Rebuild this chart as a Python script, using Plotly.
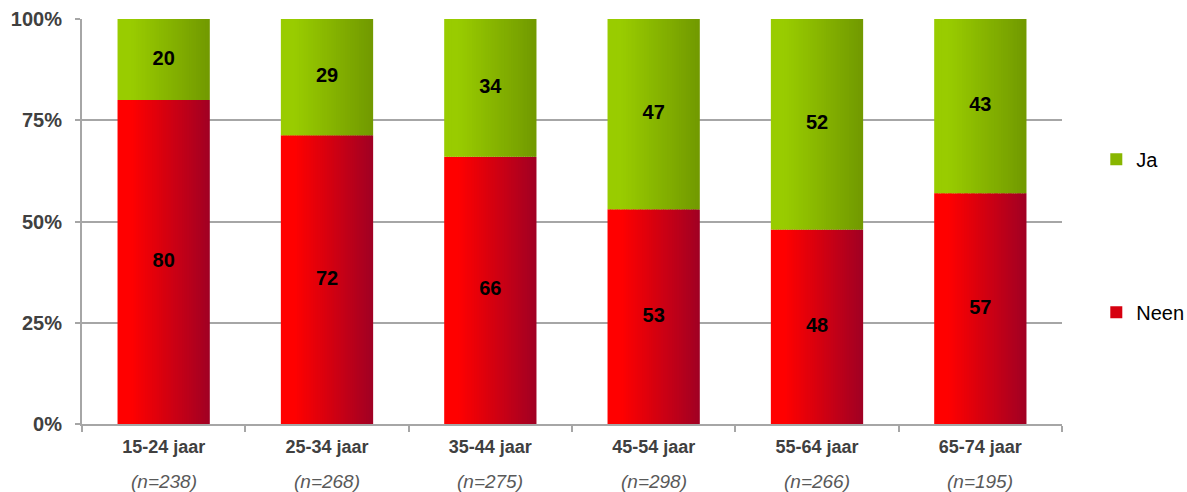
import plotly.graph_objects as go

categories = ["15-24 jaar", "25-34 jaar", "35-44 jaar", "45-54 jaar", "55-64 jaar", "65-74 jaar"]
n_labels = ["(n=238)", "(n=268)", "(n=275)", "(n=298)", "(n=266)", "(n=195)"]
neen = [80, 72, 66, 53, 48, 57]
ja = [20, 29, 34, 47, 52, 43]

FONT = "Arial, Liberation Sans, sans-serif"
BAR_W = 0.565
N = 40

red_l, red_r = (255, 0, 0), (160, 0, 36)
grn_l, grn_r = (153, 204, 0), (113, 153, 0)


def mix(c1, c2, t):
    t = max(0.0, (t - 0.15) / 0.85)
    return "rgb(%d,%d,%d)" % tuple(round(a + (b - a) * t) for a, b in zip(c1, c2))


tot = [a + b for a, b in zip(neen, ja)]
neen_p = [100 * a / t for a, t in zip(neen, tot)]
ja_p = [100 * b / t for b, t in zip(ja, tot)]

fig = go.Figure()
step = BAR_W / N
for name, vals, base, cl, cr, grp in [
    ("Neen", neen_p, [0] * 6, red_l, red_r, "neen"),
    ("Ja", ja_p, neen_p, grn_l, grn_r, "ja"),
]:
    for i in range(N):
        t = (i + 0.5) / N
        w = step * (1.6 if i < N - 1 else 1.0)
        fig.add_trace(go.Bar(
            x=categories, y=vals, base=base, name=name,
            width=w, offset=-BAR_W / 2 + i * step,
            marker=dict(color=mix(cl, cr, t), line=dict(width=0)),
            legendgroup=grp, showlegend=(i == N // 2),
            legendrank=(2 if grp == "neen" else 1),
            hoverinfo="skip",
        ))

# value labels
fig.add_trace(go.Scatter(
    x=categories, y=[p / 2 for p in neen_p], text=[str(v) for v in neen],
    mode="text", textfont=dict(family=FONT, size=20, color="black", weight="bold"),
    showlegend=False, hoverinfo="skip"))
fig.add_trace(go.Scatter(
    x=categories, y=[a + b / 2 for a, b in zip(neen_p, ja_p)], text=[str(v) for v in ja],
    mode="text", textfont=dict(family=FONT, size=20, color="black", weight="bold"),
    showlegend=False, hoverinfo="skip"))

for c, nl in zip(categories, n_labels):
    fig.add_annotation(x=c, y=-0.143, xref="x", yref="paper", text="<i>" + nl + "</i>",
                       showarrow=False, yanchor="middle",
                       font=dict(family=FONT, size=19, color="#595959"))

fig.update_layout(
    width=1187, height=492,
    margin=dict(l=82, r=125, t=19, b=68, autoexpand=False),
    plot_bgcolor="white", paper_bgcolor="white",
    barmode="overlay",
    showlegend=True,
    legend=dict(x=1.035, xanchor="left", y=0.702, yanchor="top",
                traceorder="grouped", tracegroupgap=124,
                font=dict(family=FONT, size=20, color="black"),
                bgcolor="rgba(0,0,0,0)"),
    font=dict(family=FONT),
)
fig.update_yaxes(range=[0, 100], dtick=25, ticksuffix="%",
                 showgrid=True, gridcolor="#A6A6A6", gridwidth=2,
                 showline=True, linecolor="#A6A6A6", linewidth=2,
                 ticks="outside", ticklen=5, tickcolor="#A6A6A6", tickwidth=2,
                 ticklabelstandoff=9,
                 tickfont=dict(family=FONT, size=20, color="#404040", weight="bold"),
                 zeroline=False, fixedrange=True)
fig.update_xaxes(showline=True, linecolor="#A6A6A6", linewidth=2,
                 tickson="boundaries", ticks="outside", ticklen=6,
                 tickcolor="#A6A6A6", tickwidth=2, ticklabelstandoff=5,
                 tickfont=dict(family=FONT, size=18, color="#404040", weight="bold"),
                 range=[-0.5, 5.5], fixedrange=True)

fig.write_html("out.html", config={"displayModeBar": False},
               post_script="document.body.style.margin='0';")
